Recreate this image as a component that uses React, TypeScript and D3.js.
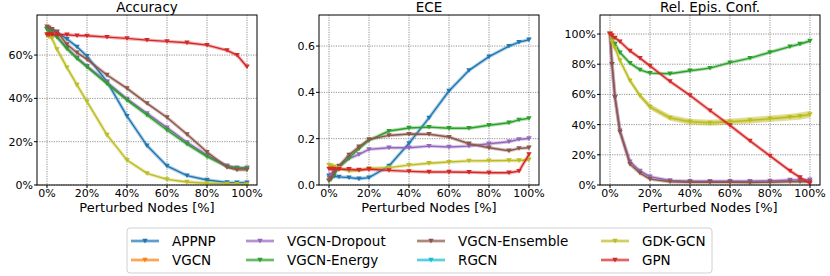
import React from 'react';
import * as d3 from 'd3';

// perturbed fraction of nodes (x positions shared by every panel)
const perturbed = [0, 0.01, 0.025, 0.05, 0.1, 0.15, 0.2, 0.3, 0.4, 0.5, 0.6, 0.7, 0.8, 0.9, 0.95, 1.0];

// Accuracy
const appnpAcc = [0.722, 0.718, 0.712, 0.705, 0.674, 0.638, 0.595, 0.477, 0.318, 0.182, 0.088, 0.043, 0.023, 0.012, 0.011, 0.011];
const dropoutAcc = [0.72, 0.712, 0.7, 0.685, 0.632, 0.588, 0.549, 0.474, 0.398, 0.331, 0.265, 0.197, 0.138, 0.089, 0.08, 0.08];
const energyAcc = [0.718, 0.71, 0.698, 0.683, 0.629, 0.584, 0.545, 0.468, 0.392, 0.323, 0.254, 0.189, 0.131, 0.085, 0.077, 0.077];
const ensembleAcc = [0.731, 0.727, 0.72, 0.708, 0.649, 0.611, 0.58, 0.508, 0.446, 0.377, 0.312, 0.234, 0.152, 0.082, 0.07, 0.07];
const gdkAcc = [0.69, 0.685, 0.677, 0.626, 0.542, 0.462, 0.385, 0.231, 0.115, 0.054, 0.026, 0.014, 0.008, 0.005, 0.004, 0.003];
const gpnAcc = [0.695, 0.695, 0.695, 0.695, 0.694, 0.69, 0.689, 0.683, 0.677, 0.669, 0.663, 0.657, 0.646, 0.622, 0.6, 0.546];

// ECE
const appnpEce = [0.04, 0.038, 0.037, 0.035, 0.032, 0.027, 0.032, 0.082, 0.18, 0.29, 0.406, 0.495, 0.554, 0.6, 0.617, 0.627];
const dropoutEce = [0.032, 0.045, 0.062, 0.08, 0.114, 0.132, 0.154, 0.161, 0.161, 0.168, 0.164, 0.168, 0.178, 0.187, 0.197, 0.201];
const energyEce = [0.017, 0.025, 0.045, 0.075, 0.118, 0.157, 0.193, 0.233, 0.246, 0.25, 0.245, 0.245, 0.258, 0.269, 0.281, 0.288];
const ensembleEce = [0.02, 0.03, 0.053, 0.082, 0.13, 0.165, 0.197, 0.214, 0.22, 0.219, 0.207, 0.178, 0.161, 0.148, 0.158, 0.161];
const gdkEce = [0.086, 0.083, 0.079, 0.072, 0.06, 0.063, 0.072, 0.075, 0.086, 0.094, 0.099, 0.104, 0.105, 0.106, 0.106, 0.109];
const gpnEce = [0.07, 0.07, 0.07, 0.068, 0.068, 0.065, 0.068, 0.063, 0.059, 0.056, 0.056, 0.055, 0.053, 0.053, 0.06, 0.132];

// Relative epistemic confidence
const dropoutRec = [1.0, 0.8, 0.58, 0.36, 0.155, 0.093, 0.055, 0.03, 0.025, 0.025, 0.025, 0.025, 0.027, 0.033, 0.034, 0.035];
const energyRec = [1.0, 0.965, 0.934, 0.877, 0.807, 0.763, 0.741, 0.737, 0.757, 0.774, 0.811, 0.84, 0.879, 0.917, 0.934, 0.954];
const ensembleRec = [1.0, 0.8, 0.58, 0.35, 0.138, 0.079, 0.039, 0.022, 0.018, 0.018, 0.018, 0.016, 0.018, 0.022, 0.022, 0.022];
const gdkRec = [1.0, 0.95, 0.906, 0.825, 0.691, 0.592, 0.518, 0.445, 0.419, 0.412, 0.419, 0.428, 0.439, 0.45, 0.456, 0.467];
const gdkRecStd = [0, 0.004, 0.008, 0.01, 0.012, 0.015, 0.018, 0.02, 0.02, 0.02, 0.02, 0.022, 0.022, 0.022, 0.024, 0.024];
const gpnRec = [1.0, 0.99, 0.975, 0.95, 0.888, 0.84, 0.789, 0.686, 0.594, 0.493, 0.395, 0.292, 0.193, 0.094, 0.05, 0.011];

const models = ['APPNP', 'VGCN', 'VGCN-Dropout', 'VGCN-Energy', 'VGCN-Ensemble', 'RGCN', 'GDK-GCN', 'GPN'];
const colors: Record<string, string> = {
  APPNP: '#1f77b4',
  VGCN: '#ff7f0e',
  'VGCN-Dropout': '#9467bd',
  'VGCN-Energy': '#2ca02c',
  'VGCN-Ensemble': '#8c564b',
  RGCN: '#17becf',
  'GDK-GCN': '#bcbd22',
  GPN: '#d62728',
};

const xTicks = [0, 0.2, 0.4, 0.6, 0.8, 1.0];

type Series = { name: string; values: number[]; std?: number[] };

const panels = [
  {
    title: 'Accuracy',
    left: 37,
    yMax: 0.785,
    yTicks: [0, 0.2, 0.4, 0.6],
    fmt: (v: number) => `${Math.round(v * 100)}%`,
    series: [
      { name: 'APPNP', values: appnpAcc },
      { name: 'VGCN-Dropout', values: dropoutAcc },
      { name: 'VGCN-Energy', values: energyAcc },
      { name: 'VGCN-Ensemble', values: ensembleAcc },
      { name: 'GDK-GCN', values: gdkAcc },
      { name: 'GPN', values: gpnAcc },
    ] as Series[],
  },
  {
    title: 'ECE',
    left: 319,
    yMax: 0.734,
    yTicks: [0, 0.2, 0.4, 0.6],
    fmt: (v: number) => v.toFixed(1),
    series: [
      { name: 'APPNP', values: appnpEce },
      { name: 'VGCN-Dropout', values: dropoutEce },
      { name: 'VGCN-Energy', values: energyEce },
      { name: 'VGCN-Ensemble', values: ensembleEce },
      { name: 'GDK-GCN', values: gdkEce },
      { name: 'GPN', values: gpnEce },
    ] as Series[],
  },
  {
    title: 'Rel. Epis. Conf.',
    left: 600,
    yMax: 1.126,
    yTicks: [0, 0.2, 0.4, 0.6, 0.8, 1.0],
    fmt: (v: number) => `${Math.round(v * 100)}%`,
    series: [
      { name: 'VGCN-Dropout', values: dropoutRec },
      { name: 'VGCN-Energy', values: energyRec },
      { name: 'VGCN-Ensemble', values: ensembleRec },
      { name: 'GDK-GCN', values: gdkRec, std: gdkRecStd },
      { name: 'GPN', values: gpnRec },
    ] as Series[],
  },
];

const W = 220;
const TOP = 15;
const BOTTOM = 185;
const FONT = 'DejaVu Sans, sans-serif';

const tri = (x: number, y: number, s = 2.7) =>
  `M${x - s},${y - s * 0.8}L${x + s},${y - s * 0.8}L${x},${y + s * 0.9}Z`;

const Panel = ({ p }: { p: (typeof panels)[number] }) => {
  const x = d3.scaleLinear().domain([-0.05, 1.05]).range([p.left, p.left + W]);
  const y = d3.scaleLinear().domain([0, p.yMax]).range([BOTTOM, TOP]);
  const line = d3
    .line<number>()
    .x((_, i) => x(perturbed[i]))
    .y((d) => y(d));
  const area = (s: Series) =>
    d3
      .area<number>()
      .x((_, i) => x(perturbed[i]))
      .y0((d, i) => y(d - (s.std ? s.std[i] : 0)))
      .y1((d, i) => y(d + (s.std ? s.std[i] : 0)))(s.values) ?? '';
  const clipId = `clip-${p.left}`;
  return (
    <g>
      <defs>
        <clipPath id={clipId}>
          <rect x={p.left} y={TOP} width={W} height={BOTTOM - TOP} />
        </clipPath>
      </defs>
      {/* grid */}
      {xTicks.map((t) => (
        <line key={`gx${t}`} x1={x(t)} x2={x(t)} y1={TOP} y2={BOTTOM} stroke="#777" strokeWidth={0.8} strokeDasharray="1.2,1.2" />
      ))}
      {p.yTicks.map((t) => (
        <line key={`gy${t}`} x1={p.left} x2={p.left + W} y1={y(t)} y2={y(t)} stroke="#777" strokeWidth={0.8} strokeDasharray="1.2,1.2" />
      ))}
      <g clipPath={`url(#${clipId})`}>
        {p.series.map((s) => (
          <g key={s.name}>
            {s.std && <path d={area(s)} fill={colors[s.name]} opacity={0.45} />}
            <path d={line(s.values) ?? ''} fill="none" stroke={colors[s.name]} strokeOpacity={0.35} strokeWidth={3.5} />
            <path d={line(s.values) ?? ''} fill="none" stroke={colors[s.name]} strokeWidth={1.4} />
            {s.values.map((v, i) => (
              <path key={i} d={tri(x(perturbed[i]), y(v))} fill={colors[s.name]} />
            ))}
          </g>
        ))}
      </g>
      {/* frame */}
      <rect x={p.left} y={TOP} width={W} height={BOTTOM - TOP} fill="none" stroke="#000" strokeWidth={1} />
      {xTicks.map((t) => (
        <g key={`tx${t}`}>
          <line x1={x(t)} x2={x(t)} y1={BOTTOM} y2={BOTTOM + 3} stroke="#000" />
          <text x={x(t)} y={BOTTOM + 12} textAnchor="middle" fontSize={11} fontFamily={FONT}>
            {`${Math.round(t * 100)}%`}
          </text>
        </g>
      ))}
      {p.yTicks.map((t) => (
        <g key={`ty${t}`}>
          <line x1={p.left - 3} x2={p.left} y1={y(t)} y2={y(t)} stroke="#000" />
          <text x={p.left - 4} y={y(t)} dy="0.36em" textAnchor="end" fontSize={11} fontFamily={FONT}>
            {p.fmt(t)}
          </text>
        </g>
      ))}
      <text x={p.left + W / 2} y={12} textAnchor="middle" fontSize={13.5} fontFamily={FONT}>
        {p.title}
      </text>
      <text x={p.left + W / 2} y={212} textAnchor="middle" fontSize={13} fontFamily={FONT}>
        Perturbed Nodes [%]
      </text>
    </g>
  );
};

const legendCols = [131, 246, 417, 601];
const legendRows = [241, 260];

const Legend = () => (
  <g>
    <rect x={127} y={228} width={585} height={45} rx={3} fill="#fff" stroke="#d0d0d0" strokeWidth={1} />
    {models.map((m, i) => {
      const cx = legendCols[Math.floor(i / 2)];
      const cy = legendRows[i % 2];
      return (
        <g key={m}>
          <line x1={cx} x2={cx + 28} y1={cy} y2={cy} stroke={colors[m]} strokeWidth={3.5} strokeOpacity={0.35} />
          <line x1={cx} x2={cx + 28} y1={cy} y2={cy} stroke={colors[m]} strokeWidth={1.4} strokeOpacity={0.8} />
          <path d={tri(cx + 14, cy)} fill={colors[m]} />
          <text x={cx + 41} y={cy} dy="0.36em" fontSize={13.5} fontFamily={FONT}>
            {m}
          </text>
        </g>
      );
    })}
  </g>
);

export default function App() {
  return (
    <svg width={830} height={276} style={{ position: 'absolute', left: 0, top: 0, background: '#fff' }}>
      {panels.map((p) => (
        <Panel key={p.title} p={p} />
      ))}
      <Legend />
    </svg>
  );
}
